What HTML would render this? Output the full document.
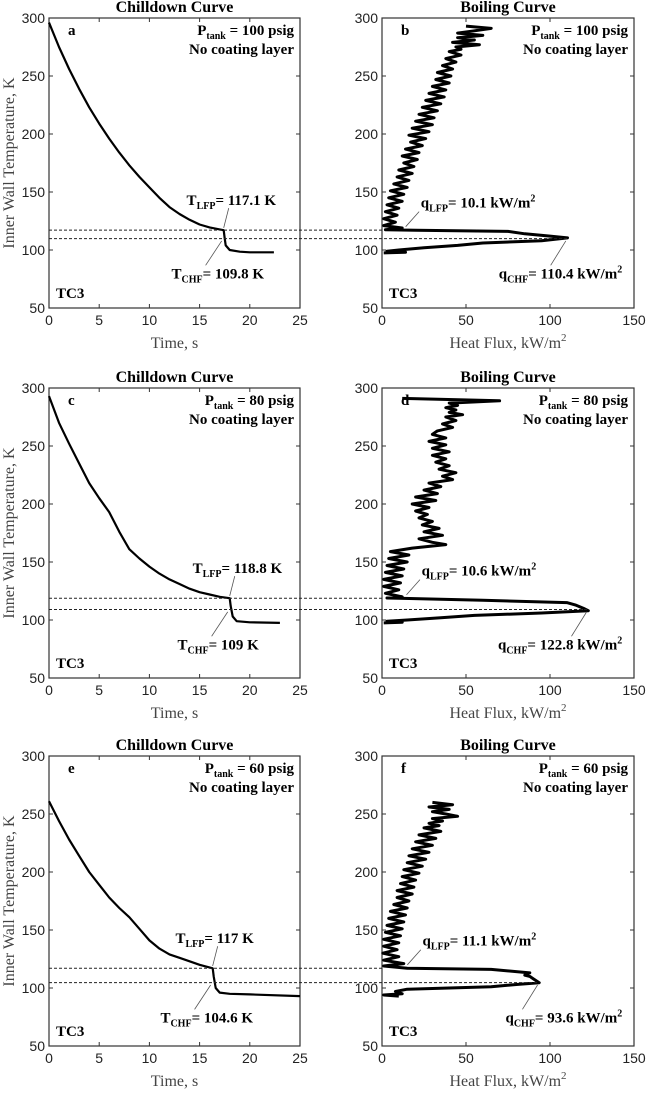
<!DOCTYPE html>
<html><head><meta charset="utf-8">
<style>
html,body{margin:0;padding:0;background:#fff;}
svg{display:block;}
.tick{font-family:"Liberation Sans",sans-serif;font-size:14px;fill:#222;}
.ser{font-family:"Liberation Serif",serif;}
</style></head>
<body>
<svg id="fig" width="647" height="1095" viewBox="0 0 647 1095" xmlns="http://www.w3.org/2000/svg"></svg>
<script>
// ---- data ----
const yTicks = [50,100,150,200,250,300];
const timeTicks = [0,5,10,15,20,25];
const fluxTicks = [0,50,100,150];
const pressures = [100,80,60];
const panelLettersL = ['a','c','e'];
const panelLettersR = ['b','d','f'];
const tLFP = [117.1,118.8,117];
const tCHF = [109.8,109,104.6];
const qLFP = [10.1,10.6,11.1];
const qCHF = [110.4,122.8,93.6];
const timeLFP = [17.4,18.0,16.3];

const timeA = [0,1,2,3,4,5,6,7,8,9,10,11,12,13,14,15,16,17,17.4,17.5,17.6,18,19,20,22.4];
const tempA = [296,275,256,239,223,209,196,184,173,163,154,145,137,131,126,122,119.5,117.8,117.1,110,104,100,98.5,98,98];
const timeC = [0,1,2,3,4,5,6,7,8,9,10,11,12,13,14,15,16,17,18,18.1,18.3,18.7,20,23];
const tempC = [293,270,252,235,218,205,193,176,161,153,146,140,135,131,127,124,122,120,118.8,112,103,99,98,97.5];
const timeE = [0,1,2,3,4,5,6,7,8,9,10,11,12,13,14,15,16.3,16.4,16.6,17,18,20,25];
const tempE = [261,244,228,214,200,189,178,169,161,151,141,134,129,126,123,120,117,110,100,96,95,94.5,93];

const bT = [293,291,289,287,285,283,281,279,277,275,273,271,268,265,262,259,256,253,250,247,244,241,238,235,232,229,226,223,220,217,214,211,208,205,202,199,196,193,190,187,184,181,178,175,172,169,166,163,160,157,154,151,148,145,142,139,136,133,130,127,124,121,119,117.5,117,116,114,112,110.4,108,106,104,102,100,99,98,97.5];
const bQ = [50,65,55,45,60,45,55,42,58,44,47,40,47,38,44,36,42,33,41,32,40,30,38,28,37,26,35,24,33,22,31,20,30,18,28,16,26,17,24,14,22,12,21,13,19,10,18,9,16,7,15,5,13,4,12,3,10,2,9,1,8,1,12,2,20,75,85,100,110.4,95,60,45,25,10,3,14,1];
const dT = [291,289,287,285,283,281,279,277,275,272,269,266,263,260,257,254,251,248,245,242,239,236,233,230,227,224,221,218,215,212,209,206,203,200,197,194,191,188,185,182,179,176,173,170,167,165,162,159,156,153,150,147,144,141,138,135,132,129,126,123,120,119,118.8,117,115,113,110,108,106,104,102,100,99,98,97.5];
const dQ = [12,70,40,45,38,44,40,48,38,44,36,42,33,30,38,28,38,30,40,30,38,32,40,34,44,36,42,28,35,25,33,20,32,18,28,20,27,22,30,24,34,25,36,22,30,38,18,5,16,4,15,3,13,2,12,1,11,1,10,2,12,3,10,60,110,115,120,122.8,95,55,35,15,3,12,1];
const fT = [260,258,256,254,252,250,248,246,244,242,240,238,235,232,229,226,223,220,217,214,211,208,205,202,199,196,193,190,187,184,181,178,175,172,169,166,163,160,157,154,151,148,145,142,139,136,133,130,127,124,121,119,117,116,113,111,110,108,104.6,103,101,99,97,95,94,93];
const fQ = [30,42,28,40,30,38,45,30,36,28,34,25,35,22,32,20,30,18,28,16,26,15,24,13,22,12,20,11,19,9,18,9,16,7,15,5,14,4,13,3,12,2,11,1,10,1,9,0.5,10,1,13,1,15,65,88,85,88,90,93.6,80,65,15,8,12,1,10];

const chillT = [timeA,timeC,timeE], chillY = [tempA,tempC,tempE];
const boilQ = [bQ,dQ,fQ], boilY = [bT,dT,fT];

// ---- layout ----
const NS = "http://www.w3.org/2000/svg";
const svg = document.getElementById('fig');
const rowTop = [18,388,756];
const H = 290;
const LX = [49,300], RX = [382,634];
function el(tag, attrs, parent){
  const e = document.createElementNS(NS, tag);
  for (const k in attrs) e.setAttribute(k, attrs[k]);
  (parent||svg).appendChild(e);
  return e;
}
function txt(parent, x, y, s, attrs){
  const t = el('text', Object.assign({x:x,y:y}, attrs||{}), parent);
  t.innerHTML = s;
  return t;
}

for (let r=0;r<3;r++){
  const top = rowTop[r], bot = top+H;
  const ys = v => bot - (v-50)/250*H;
  const xsT = v => LX[0] + v/25*(LX[1]-LX[0]);
  const xsQ = v => RX[0] + v/150*(RX[1]-RX[0]);

  for (let side=0; side<2; side++){
    const X = side===0?LX:RX;
    const g = el('g',{});
    
    
    const xs = side===0?xsT:xsQ;
    const xt = side===0?timeTicks:fluxTicks;
    const tt = txt(g,(X[0]+X[1])/2, top-6, side===0?'Chilldown Curve':'Boiling Curve',{'class':'ser','font-size':'16','font-weight':'bold','text-anchor':'middle'});
    
    
    yTicks.forEach(v=>{
      const y=ys(v);
      el('line',{x1:X[0],x2:X[0]+4,y1:y,y2:y,stroke:'#333','stroke-width':1},g);
      el('line',{x1:X[1],x2:X[1]-4,y1:y,y2:y,stroke:'#333','stroke-width':1},g);
      const lb = txt(g,X[0]-4,y+5,String(v),{'class':'tick','text-anchor':'end'});
      
      
    });
    xt.forEach(v=>{
      const x=xs(v);
      el('line',{x1:x,x2:x,y1:bot,y2:bot-4,stroke:'#333','stroke-width':1},g);
      el('line',{x1:x,x2:x,y1:top,y2:top+4,stroke:'#333','stroke-width':1},g);
      const lb = txt(g,x,bot+17,String(v),{'class':'tick','text-anchor':'middle'});
      
      
    });
    const box = el('rect',{x:X[0],y:top,width:X[1]-X[0],height:H,fill:'none',stroke:'#333','stroke-width':1.2},g);
    
    
    const xl = txt(g,(X[0]+X[1])/2, bot+40, side===0?'Time, s':'Heat Flux, kW/m<tspan dy="-7" font-size="11">2</tspan>',{'class':'ser','font-size':'16','fill':'#444','text-anchor':'middle'});
    
    
    const pl = txt(g,X[1]-6,top+17,'P<tspan font-size="10" dy="4">tank</tspan><tspan dy="-4"> = '+pressures[r]+' psig</tspan>',{'class':'ser','font-size':'15','font-weight':'bold','text-anchor':'end'});
    
    
    const nc = txt(g,X[1]-6,top+36,'No coating layer',{'class':'ser','font-size':'15','font-weight':'bold','text-anchor':'end'});
    
    
    const lt = txt(g,X[0]+19,top+17,side===0?panelLettersL[r]:panelLettersR[r],{'class':'ser','font-size':'15','font-weight':'bold'});
    
    
    const tc = txt(g,X[0]+7,bot-10,'TC3',{'class':'ser','font-size':'15','font-weight':'bold'});
    
    

    let d='';
    if (side===0){
      chillT[r].forEach((t,i)=>{ d += (i?'L':'M')+xsT(t).toFixed(1)+','+ys(chillY[r][i]).toFixed(1); });
    } else {
      boilQ[r].forEach((q,i)=>{ d += (i?'L':'M')+xsQ(q).toFixed(1)+','+ys(boilY[r][i]).toFixed(1); });
    }
    const p = el('path',{d:d,fill:'none',stroke:'#000','stroke-width':side===0?2.2:3,'stroke-linejoin':'round'},g);
    
    

    const A = {stroke:'#555','stroke-width':0.8};
    if (side===0){
      const l1 = txt(g,xsT(timeLFP[r]-3.7),ys(tLFP[r]+26)+5,'T<tspan font-size="10" dy="4">LFP</tspan><tspan dy="-4">= '+tLFP[r]+' K</tspan>',{'class':'ser','font-size':'15','font-weight':'bold'});
      
      
      el('line',Object.assign({x1:xsT(timeLFP[r]+0.5),y1:ys(tLFP[r]+19),x2:xsT(timeLFP[r]),y2:ys(tLFP[r]+2)},A),g);
      const l2 = txt(g,xsT(timeLFP[r]-5.2),ys(tCHF[r]-30)+5,'T<tspan font-size="10" dy="4">CHF</tspan><tspan dy="-4">= '+tCHF[r]+' K</tspan>',{'class':'ser','font-size':'15','font-weight':'bold'});
      
      
      el('line',Object.assign({x1:xsT(timeLFP[r]-1.8),y1:ys(tCHF[r]-23),x2:xsT(timeLFP[r]-0.2),y2:ys(tCHF[r]-2)},A),g);
    } else {
      const l1 = txt(g,xsQ(qLFP[r]+13),ys(tLFP[r]+24)+5,'q<tspan font-size="10" dy="4">LFP</tspan><tspan dy="-4">= '+qLFP[r]+' kW/m</tspan><tspan dy="-6" font-size="10">2</tspan>',{'class':'ser','font-size':'15','font-weight':'bold'});
      
      
      el('line',Object.assign({x1:xsQ(qLFP[r]+12),y1:ys(tLFP[r]+16),x2:xsQ(qLFP[r]+4),y2:ys(tLFP[r]+3)},A),g);
      const l2 = txt(g,xsQ(143),ys(tCHF[r]-30)+5,'q<tspan font-size="10" dy="4">CHF</tspan><tspan dy="-4">= '+qCHF[r]+' kW/m</tspan><tspan dy="-6" font-size="10">2</tspan>',{'class':'ser','font-size':'15','font-weight':'bold','text-anchor':'end'});
      
      
      el('line',Object.assign({x1:xsQ(qCHF[r]-10),y1:ys(tCHF[r]-23),x2:xsQ(qCHF[r]-1),y2:ys(tCHF[r]-2)},A),g);
    }
  }
  const d1 = el('line',{x1:LX[0],x2:RX[0]+2,y1:ys(tLFP[r]),y2:ys(tLFP[r]),stroke:'#222','stroke-width':1,'stroke-dasharray':'3,2'});
  
  
  const d2 = el('line',{x1:LX[0],x2:xsQ(qCHF[r]),y1:ys(tCHF[r]),y2:ys(tCHF[r]),stroke:'#222','stroke-width':1,'stroke-dasharray':'3,2'});
  
  
  const yl = txt(svg,0,0,'Inner Wall Temperature, K',{'class':'ser','font-size':'16','fill':'#444','text-anchor':'middle',transform:'translate(14,'+(top+H/2)+') rotate(-90)'});
  
  
}
</script>
</body></html>
